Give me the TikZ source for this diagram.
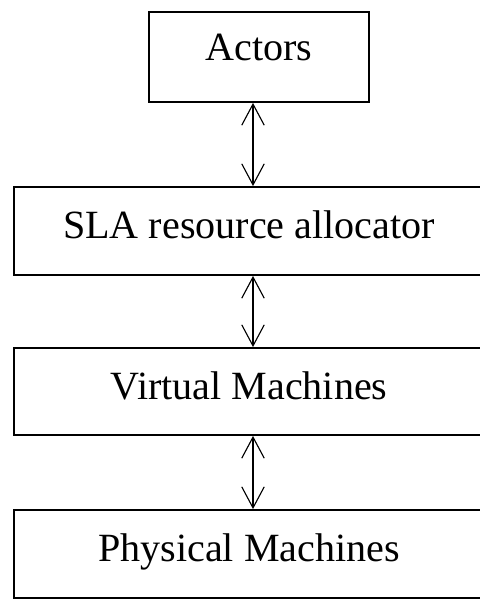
\documentclass[tikz,border=0pt]{standalone}
\usepackage{fontspec}
\setmainfont{Liberation Serif}
\usetikzlibrary{arrows.meta}

\begin{document}
\begin{tikzpicture}[x=0.025cm, y=-0.025cm,
    layer/.style={draw, line width=1.3pt, inner sep=0pt,
        font=\fontsize{28.5}{30}\selectfont, text height=19pt, text depth=7.8pt},
    link/.style={line width=0.8pt,
        {Straight Barb[length=15pt, width=16pt]}-{Straight Barb[length=15pt, width=16pt]}}]
    \clip (0,0) rectangle (480,601);

    % Actors on top
    \node[layer, minimum width=5.5cm, minimum height=2.25cm, text depth=13.5pt] (actors) at (259,57) {Actors};

    % Full width layers (right edge runs off the page)
    \node[layer, minimum width=11.75cm, minimum height=2.2cm] (sla) at (249,231) {SLA resource allocator};
    \node[layer, minimum width=11.75cm, minimum height=2.175cm] (vm) at (249,391.5) {Virtual Machines};
    \node[layer, minimum width=11.75cm, minimum height=2.2cm] (pm) at (249,554) {Physical Machines};

    % Two way links
    \coordinate (axis) at (253,0);
    \draw[link] (actors.south -| axis) -- (sla.north -| axis);
    \draw[link] (sla.south -| axis) -- (vm.north -| axis);
    \draw[link] (vm.south -| axis) -- (pm.north -| axis);
\end{tikzpicture}
\end{document}
